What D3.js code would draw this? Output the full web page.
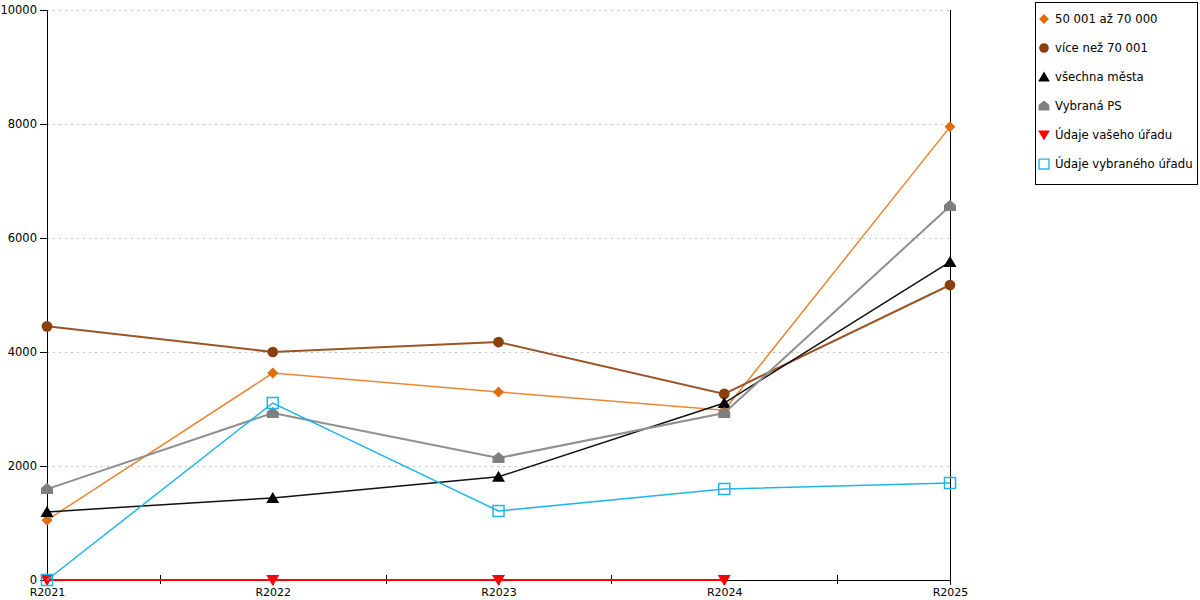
<!DOCTYPE html>
<html>
<head>
<meta charset="utf-8">
<script src="https://cdn.jsdelivr.net/npm/d3@7"></script>
<style>
  body { margin: 0; background: #fff; }
  text { font-family: "DejaVu Sans", sans-serif; font-size: 12px; fill: #000; }
</style>
</head>
<body>
<div id="chart"></div>
<script>
// data
var years = ["R2021", "R2022", "R2023", "R2024", "R2025"];
var yTicks = [0, 2000, 4000, 6000, 8000, 10000];

var s5070 = [1050, 3630, 3300, 2980, 7950];
var sOver70 = [4450, 4000, 4175, 3265, 5175];
var sAll = [1195, 1440, 1810, 3105, 5580];
var sPS = [1595, 2930, 2140, 2930, 6560];
var sYour = [0, 0, 0, 0, null];
var sSelected = [0, 3105, 1210, 1595, 1700];

var names = ["50 001 až 70 000", "více než 70 001", "všechna města", "Vybraná PS", "Údaje vašeho úřadu", "Údaje vybraného úřadu"];

var series = [
  {name: names[0], values: s5070, line: "#ea8634", fill: "#e06c0c", shape: "diamond", width: 1.5},
  {name: names[1], values: sOver70, line: "#9c5427", fill: "#8b3f0a", shape: "circle", width: 2},
  {name: names[2], values: sAll, line: "#111", fill: "#000", shape: "tri", width: 1.5},
  {name: names[3], values: sPS, line: "#8f8f8f", fill: "#7f7f7f", shape: "house", width: 2},
  {name: names[4], values: sYour, line: "#ff0000", fill: "#ff0000", shape: "triDown", width: 2},
  {name: names[5], values: sSelected, line: "#1fb5ec", fill: "none", shape: "square", width: 1.5}
];

var margin = {top: 10, right: 250, bottom: 20, left: 47};
var width = 1200 - margin.left - margin.right;
var height = 600 - margin.top - margin.bottom;

var svg = d3.select("#chart")
  .append("svg")
    .attr("width", 1200)
    .attr("height", 600);

var g = svg.append("g")
    .attr("transform", "translate(" + margin.left + "," + margin.top + ")");

var x = d3.scalePoint().domain(years).range([0, width]);
var y = d3.scaleLinear().domain([0, 10000]).range([height, 0]);

// grid
g.selectAll(".grid")
  .data(yTicks.filter(function(d) { return d > 0; }))
  .enter().append("line")
    .attr("x1", 0).attr("x2", width)
    .attr("y1", function(d) { return y(d) + 0.5; })
    .attr("y2", function(d) { return y(d) + 0.5; })
    .attr("stroke", "#c4c4c4")
    .attr("stroke-dasharray", "2,4");

// y axis
var yAxis = g.append("g")
    .call(d3.axisLeft(y).tickValues(yTicks).tickFormat(d3.format("d")).tickSize(7).tickPadding(3));
yAxis.select(".domain").attr("stroke", "#000");
yAxis.selectAll("text").style("font-size", "11.5px");

// right border line
g.append("line")
    .attr("x1", width + 0.5).attr("x2", width + 0.5)
    .attr("y1", 0).attr("y2", height)
    .attr("stroke", "#000");

// x axis
var xAxis = g.append("g")
    .attr("transform", "translate(0," + height + ")")
    .call(d3.axisBottom(x).tickSize(5).tickPadding(3).tickSizeOuter(0));
xAxis.select(".domain").attr("stroke", "#000");
xAxis.selectAll("text").style("font-size", "11px");

// minor ticks between categories
var mids = years.slice(1).map(function(d, i) { return (x(years[i]) + x(d)) / 2; });
g.selectAll(".minor")
  .data(mids)
  .enter().append("line")
    .attr("x1", function(d) { return Math.round(d) + 0.5; })
    .attr("x2", function(d) { return Math.round(d) + 0.5; })
    .attr("y1", height - 5)
    .attr("y2", height + 4)
    .attr("stroke", "#000");

function shapePath(shape) {
  switch (shape) {
    case "diamond": return "M0,-5.5L5.5,0L0,5.5L-5.5,0Z";
    case "circle": return d3.symbol(d3.symbolCircle, 90)();
    case "tri": return "M0,-6L6.5,5L-6.5,5Z";
    case "triDown": return "M-6.5,-5L6.5,-5L0,6Z";
    case "house": return "M0,-6L6,-1L6,5L-6,5L-6,-1Z";
    case "square": return "M-5.5,-5.5H5.5V5.5H-5.5Z";
  }
}

var line = d3.line()
    .defined(function(d) { return d != null; })
    .x(function(d, i) { return x(years[i]); })
    .y(function(d) { return y(d); });

series.forEach(function(s) {
  g.append("path")
    .datum(s.values)
    .attr("fill", "none")
    .attr("stroke", s.line)
    .attr("stroke-width", s.width)
    .attr("d", line);

  g.selectAll(null)
    .data(s.values.map(function(v, i) { return {v: v, i: i}; }).filter(function(d) { return d.v != null; }))
    .enter().append("path")
      .attr("transform", function(d) { return "translate(" + x(years[d.i]) + "," + y(d.v) + ")"; })
      .attr("d", shapePath(s.shape))
      .attr("fill", s.fill)
      .attr("stroke", s.shape === "square" ? s.line : "none")
      .attr("stroke-width", 1.5);
});

// legend
var legend = svg.append("g").attr("transform", "translate(1035,2)");
legend.append("rect")
    .attr("x", 0.5).attr("y", 0.5)
    .attr("width", 162).attr("height", 182)
    .attr("fill", "#fff")
    .attr("stroke", "#000");

var items = legend.selectAll(".item")
  .data(series)
  .enter().append("g")
    .attr("transform", function(d, i) { return "translate(9," + (17 + i * 29) + ")"; });

items.append("path")
    .attr("d", function(d) { return shapePath(d.shape); })
    .attr("transform", "scale(0.9)")
    .attr("fill", function(d) { return d.fill; })
    .attr("stroke", function(d) { return d.shape === "square" ? d.line : "none"; })
    .attr("stroke-width", 1.5);

items.append("text")
    .attr("x", 11)
    .attr("dy", "0.35em")
    .style("font-size", "11.7px")
    .text(function(d) { return d.name; });
</script>
</body>
</html>
